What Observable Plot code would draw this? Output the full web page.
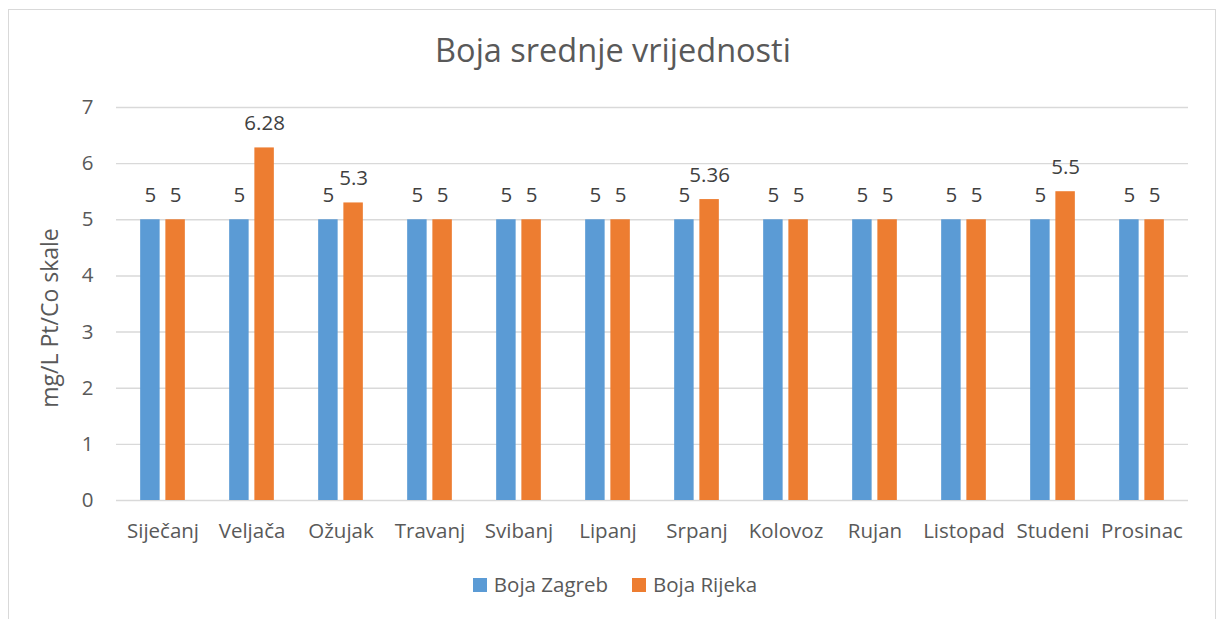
<!DOCTYPE html>
<html>
<head>
<meta charset="utf-8">
<script src="https://cdn.jsdelivr.net/npm/d3@7"></script>
<script src="https://cdn.jsdelivr.net/npm/@observablehq/plot@0.6"></script>
<style>
  html, body { margin: 0; padding: 0; background: #fff; width: 1219px; height: 619px; overflow: hidden; }
  body { position: relative; font-family: "Open Sans", sans-serif; color: #595959; }
  #frame { position: absolute; left: 8px; top: 9px; width: 1208px; height: 700px; border: 1.5px solid #d9d9d9; box-sizing: border-box; }
  #title { position: absolute; left: 0; width: 1226px; top: 34px; text-align: center; font-size: 32.5px; line-height: 32.5px; color: #595959; white-space: nowrap; }
  #chart { position: absolute; left: 0; top: 80px; }
  #ylabel { position: absolute; left: 49px; top: 318px; transform: translate(-50%, -50%) rotate(-90deg); font-size: 23px; line-height: 23px; white-space: nowrap; color: #595959; }
  #legend { position: absolute; left: 0; width: 1230px; top: 574px; display: flex; justify-content: center; gap: 24px; font-size: 20.5px; line-height: 20.5px; color: #595959; }
  .item { display: flex; align-items: center; gap: 7px; }
  .sw { width: 14px; height: 14px; display: inline-block; margin-top: 2px; }
</style>
</head>
<body>
<div id="frame"></div>
<div id="title"></div>
<div id="chart"></div>
<div id="ylabel"></div>
<div id="legend"></div>
<script>
const titleText = "Boja srednje vrijednosti";
const yLabel = "mg/L Pt/Co skale";
const months = ["Siječanj", "Veljača", "Ožujak", "Travanj", "Svibanj", "Lipanj", "Srpanj", "Kolovoz", "Rujan", "Listopad", "Studeni", "Prosinac"];
const seriesNames = ["Boja Zagreb", "Boja Rijeka"];
const zagreb = [5, 5, 5, 5, 5, 5, 5, 5, 5, 5, 5, 5];
const rijeka = [5, 6.28, 5.3, 5, 5, 5, 5.36, 5, 5, 5, 5.5, 5];
const yTicks = [0, 1, 2, 3, 4, 5, 6, 7];
const colors = ["#5b9bd5", "#ed7d31"];

const zData = months.map((m, i) => ({month: m, series: seriesNames[0], value: zagreb[i]}));
const rData = months.map((m, i) => ({month: m, series: seriesNames[1], value: rijeka[i]}));

document.getElementById("title").textContent = titleText;
document.getElementById("ylabel").textContent = yLabel;

const legend = document.getElementById("legend");
seriesNames.forEach((s, i) => {
  const it = document.createElement("div");
  it.className = "item";
  const sw = document.createElement("span");
  sw.className = "sw";
  sw.style.background = colors[i];
  const tx = document.createElement("span");
  tx.textContent = s;
  it.appendChild(sw);
  it.appendChild(tx);
  legend.appendChild(it);
});

const W = 1219, ML = 116, MR = 31;
const step = (W - ML - MR) / months.length;       // band width per month
const groupFrac = 0.504;                           // share of band occupied by the bar pair
const gapFrac = 0.12;                              // share of group between the two bars
const group = step * groupFrac;
const barW = group * (1 - gapFrac) / 2;
const outer = (step - group) / 2;
const shift = (group - barW) / 2;                  // bar centre offset from band centre

const chart = Plot.plot({
  width: W,
  height: 460,
  marginLeft: ML,
  marginRight: MR,
  marginTop: 27,
  marginBottom: 40,
  style: {fontFamily: "Open Sans", fontSize: "20.5px", color: "#595959", background: "transparent", overflow: "visible"},
  x: {domain: months, padding: 0, label: null},
  y: {domain: [0, 7], label: null},
  color: {domain: seriesNames, range: colors},
  marks: [
    Plot.ruleY(yTicks, {stroke: "#d9d9d9", strokeWidth: 1.4}),
    Plot.axisY(yTicks, {tickSize: 0, tickPadding: 23, label: null, fill: "#595959", tickFormat: d => String(d)}),
    Plot.axisX({tickSize: 0, tickPadding: 23, label: null, fill: "#595959"}),
    Plot.barY(zData, {x: "month", y: "value", fill: "series", insetLeft: outer, insetRight: step - outer - barW}),
    Plot.barY(rData, {x: "month", y: "value", fill: "series", insetLeft: step - outer - barW, insetRight: outer}),
    Plot.text(zData, {x: "month", y: "value", text: d => String(d.value), dx: -shift, dy: -17.5, lineAnchor: "bottom", fill: "#404040"}),
    Plot.text(rData, {x: "month", y: "value", text: d => String(d.value), dx: shift, dy: -17.5, lineAnchor: "bottom", fill: "#404040"})
  ]
});
document.getElementById("chart").appendChild(chart);
</script>
</body>
</html>
